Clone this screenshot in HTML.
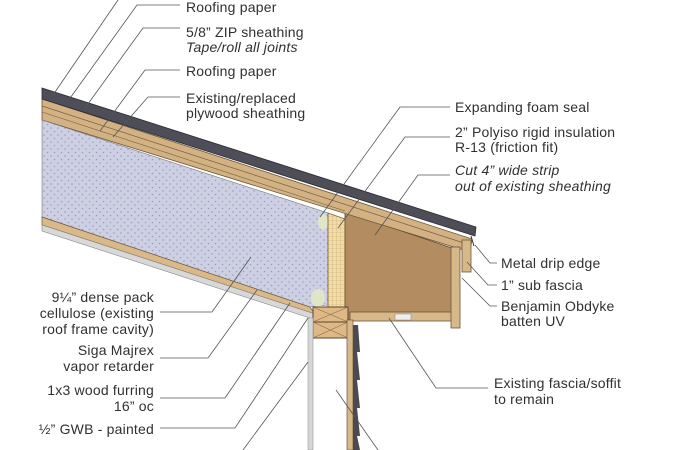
<!DOCTYPE html>
<html><head><meta charset="utf-8"><style>
html,body{margin:0;padding:0;background:#fff;}
svg{display:block}
text{font-family:"Liberation Sans",sans-serif;font-size:14px;letter-spacing:0.2px;fill:#303030}
.i{font-style:italic}
.l{stroke:#555;stroke-width:0.8;fill:none}
</style></head><body>
<svg width="696" height="450" viewBox="0 0 696 450" xmlns="http://www.w3.org/2000/svg">
<defs>
<pattern id="dots" width="7" height="7" patternUnits="userSpaceOnUse">
<rect width="7" height="7" fill="#cdcfe3"/><circle cx="2" cy="2" r="0.8" fill="#9a9cc0"/><circle cx="5.5" cy="5.5" r="0.8" fill="#9a9cc0"/>
</pattern>
<pattern id="grid" width="4" height="4" patternUnits="userSpaceOnUse">
<rect width="4" height="4" fill="#f0dca8"/><path d="M0 0H4M0 0V4" stroke="#c9a96a" stroke-width="0.6"/>
</pattern>
</defs>
<polygon points="345,212 458,250 458,320 345,320" fill="#b38c62" stroke="#5a4630" stroke-width="0.8"/>
<polygon points="42,99 472,239 470,252 42,120" fill="#d2b183" stroke="#6d5638" stroke-width="0.8"/>
<line x1="42" y1="106" x2="470" y2="245" stroke="#7a6040" stroke-width="0.7"/>
<line x1="42" y1="112" x2="345" y2="211" stroke="#7a6040" stroke-width="0.6"/>
<polygon points="42,88 476,227 475,236 42,99" fill="#4d4e58" stroke="#2a2a30" stroke-width="0.8"/>
<polygon points="42,120 328,213 328,305 310,307 42,217" fill="url(#dots)" stroke="#777" stroke-width="0.6"/>
<ellipse cx="323" cy="222" rx="5" ry="8" fill="#dfe6c8"/>
<ellipse cx="318" cy="298" rx="7" ry="9" fill="#dfe6c8"/>
<polygon points="328,213 345,219 345,307 328,307" fill="url(#grid)" stroke="#7a6040" stroke-width="0.8"/>
<polygon points="42,217 310,307 315,314 42,225" fill="#d9b987" stroke="#6d5638" stroke-width="0.7"/>
<polygon points="42,225 315,314 313,319 42,231" fill="#d8d8d8" stroke="#888" stroke-width="0.6"/>
<rect x="350" y="312" width="103" height="9" fill="#d7b888" stroke="#6d5638" stroke-width="0.8"/>
<rect x="395" y="314" width="16" height="6" fill="#eee" stroke="#888" stroke-width="0.5"/>
<rect x="451" y="247" width="9" height="81" fill="#d7b888" stroke="#6d5638" stroke-width="0.8"/>
<rect x="462" y="240" width="9" height="32" fill="#d7b888" stroke="#6d5638" stroke-width="0.8"/>
<line x1="471" y1="236" x2="474" y2="246" stroke="#333" stroke-width="1"/>
<rect x="313" y="307" width="35" height="15" fill="#deb886" stroke="#5a4630"/>
<rect x="313" y="322" width="35" height="16" fill="#deb886" stroke="#5a4630"/>
<path d="M313 307L348 322M348 307L313 322M313 322L348 338M348 322L313 338" stroke="#8a6a44" stroke-width="0.6"/>
<rect x="347" y="320" width="6" height="130" fill="#d7b888" stroke="#6d5638" stroke-width="0.7"/>
<polygon points="353,325 358,325 360,352 357,352 360,380 357,380 360,408 357,408 360,436 357,436 360,450 353,450" fill="#4a4a50"/>
<rect x="308" y="318" width="5" height="132" fill="#d6d6d6" stroke="#999" stroke-width="0.6"/>
<path class="l" d="M118 0L53 95"/>
<path class="l" d="M180 5H137L68 101"/>
<path class="l" d="M180 28H143L85 108"/>
<path class="l" d="M180 70H145L100 131"/>
<path class="l" d="M180 97H148L113 137"/>
<path class="l" d="M450 107H400L320 217"/>
<path class="l" d="M450 137H405L338 228"/>
<path class="l" d="M450 175H418L375 235"/>
<path class="l" d="M497 263H490L475 245"/>
<path class="l" d="M497 285H488L467 262"/>
<path class="l" d="M497 306H490L462 278"/>
<path class="l" d="M488 388H436L389 318"/>
<path class="l" d="M160 312H212L251 257"/>
<path class="l" d="M160 358H208L257 290"/>
<path class="l" d="M160 398H225L290 303"/>
<path class="l" d="M160 428H235L308 318"/>
<path class="l" d="M308 362L243 450"/>
<path class="l" d="M336 390L378 450"/>
<text x="186" y="12">Roofing paper</text>
<text x="186" y="37">5/8” ZIP sheathing</text>
<text x="186" y="52" class="i">Tape/roll all joints</text>
<text x="186" y="76">Roofing paper</text>
<text x="186" y="103">Existing/replaced</text>
<text x="186" y="118">plywood sheathing</text>
<text x="455" y="112">Expanding foam seal</text>
<text x="455" y="137">2” Polyiso rigid insulation</text>
<text x="455" y="152">R-13 (friction fit)</text>
<text x="455" y="175" class="i">Cut 4” wide strip</text>
<text x="455" y="191" class="i">out of existing sheathing</text>
<text x="501" y="268">Metal drip edge</text>
<text x="501" y="290">1” sub fascia</text>
<text x="501" y="311">Benjamin Obdyke</text>
<text x="501" y="326">batten UV</text>
<text x="494" y="388">Existing fascia/soffit</text>
<text x="494" y="404">to remain</text>
<g text-anchor="end">
<text x="154" y="302">9¼” dense pack</text>
<text x="154" y="318">cellulose (existing</text>
<text x="154" y="334">roof frame cavity)</text>
<text x="154" y="355">Siga Majrex</text>
<text x="154" y="371">vapor retarder</text>
<text x="154" y="395">1x3 wood furring</text>
<text x="154" y="411">16” oc</text>
<text x="154" y="434">½” GWB - painted</text>
</g>
</svg>
</body></html>
